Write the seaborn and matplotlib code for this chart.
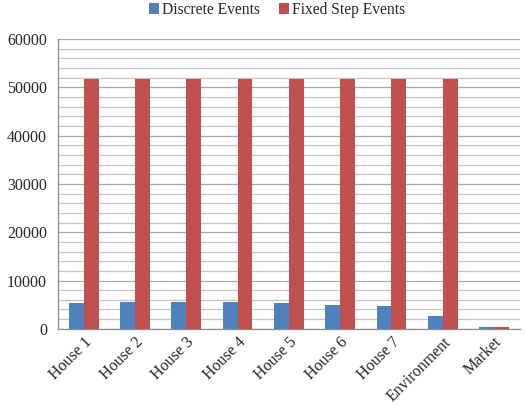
import matplotlib
matplotlib.use("Agg")
import matplotlib.pyplot as plt
from matplotlib.ticker import MultipleLocator, FixedLocator
import seaborn as sns
import pandas as pd

categories = ["House 1", "House 2", "House 3", "House 4", "House 5",
              "House 6", "House 7", "Environment", "Market"]
discrete_events = [5400, 5550, 5580, 5500, 5350, 4950, 4750, 2750, 300]
fixed_step_events = [51800, 51800, 51800, 51800, 51800, 51800, 51800, 51800, 300]
series_names = ["Discrete Events", "Fixed Step Events"]
palette = ["#4F81BD", "#C0504D"]

df = pd.DataFrame({
    "category": categories * 2,
    "events": discrete_events + fixed_step_events,
    "series": [series_names[0]] * len(categories) + [series_names[1]] * len(categories),
})

sns.set_style("white")
plt.rcParams["font.family"] = ["Liberation Serif", "DejaVu Serif"]

fig = plt.figure(figsize=(5.25, 4.12), dpi=100)
ax = fig.add_axes([0.1105, 0.202, 0.8795, 0.703])

sns.barplot(data=df, x="category", y="events", hue="series", order=categories,
            hue_order=series_names, palette=palette, width=0.58, saturation=1,
            edgecolor="none", linewidth=0, ax=ax, zorder=3)

ax.set_ylim(0, 60000)
ax.set_xlim(-0.5, len(categories) - 0.5)
ax.yaxis.set_major_locator(MultipleLocator(10000))
ax.yaxis.set_minor_locator(MultipleLocator(2000))
ax.grid(axis="y", which="major", color="#A8A8A8", linewidth=0.9, zorder=0)
ax.grid(axis="y", which="minor", color="#C4C4C4", linewidth=0.9, zorder=0)
ax.set_axisbelow(True)

ax.xaxis.set_minor_locator(FixedLocator([i - 0.5 for i in range(len(categories) + 1)]))
ax.tick_params(axis="x", which="major", length=0, pad=4)
ax.tick_params(axis="x", which="minor", length=5, color="#8C8C8C", width=0.9, direction="out")
ax.tick_params(axis="y", which="major", length=5, color="#8C8C8C", width=0.9, direction="out", pad=3)
ax.tick_params(axis="y", which="minor", length=0)
ax.tick_params(labelsize=11.5)

ax.set_xticks(range(len(categories)))
ax.set_xticklabels(categories, rotation=45, ha="right", va="top", rotation_mode="anchor")

for side in ["top", "right"]:
    ax.spines[side].set_visible(False)
for side in ["left", "bottom"]:
    ax.spines[side].set_color("#8C8C8C")
    ax.spines[side].set_linewidth(0.9)

ax.set_xlabel("")
ax.set_ylabel("")

handles, labels = ax.get_legend_handles_labels()
ax.legend(handles, labels, loc="upper center", bbox_to_anchor=(0.474, 1.15),
          ncol=2, frameon=False, fontsize=11.2, handlelength=0.65, handleheight=0.65,
          handletextpad=0.2, columnspacing=1.2, borderaxespad=0)

fig.savefig("out.png", dpi=100)
